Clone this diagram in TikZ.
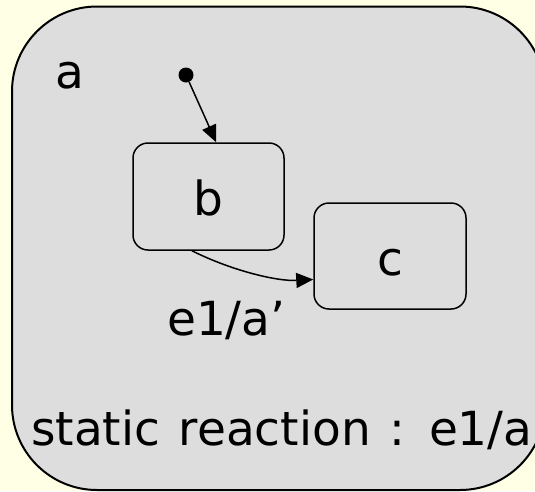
\documentclass[tikz,border=0pt]{standalone}
\usepackage{fontspec}
\setmainfont{DejaVu Sans}[WordSpace=1.25]
\usetikzlibrary{arrows.meta}
\definecolor{paper}{HTML}{FFFFE6}
\definecolor{statefill}{HTML}{DDDDDD}
\begin{document}
\begin{tikzpicture}[x=1pt,y=-1pt,
  every node/.style={inner sep=0pt, font=\fontsize{47}{56}\selectfont},
  superstate/.style={draw, line width=2pt, fill=statefill, rounded corners=85pt},
  substate/.style={draw, line width=1.5pt, fill=statefill, rounded corners=15pt,
    minimum width=151pt, minimum height=107pt, text height=38pt, text depth=0pt},
  initdot/.style={circle, fill=black, minimum size=15pt},
  trans/.style={line width=1.5pt, -{Triangle[length=17pt,width=15pt]}},
  caption/.style={anchor=base west},
]
\useasboundingbox (0,0) rectangle (535,491);
\clip (0,0) rectangle (535,491);
\fill[paper] (0,0) rectangle (535,491);

% enclosing state a
\node[superstate, minimum width=533pt, minimum height=483.5pt] (stateA) at (278.5,248.25) {};
\node[caption] (alabel) at (55,88) {a};

% initial pseudo-state and the two substates
\node[initdot] (init) at (186,75) {};
\node[substate] (b) at (208.5,196.5) {b};
\node[substate, minimum width=152pt, minimum height=106pt] (c) at (390,256) {c};

% transitions
\draw[trans] (init) -- (b.82);
\draw[trans] (b.253) .. controls +(40,20) and +(-36,2) .. (c.197);
\node[caption] (tlabel) at (167,335) {e1/a’};

% static reaction of a
\node[caption] (static) at (31,445) {static reaction : e1/a};
\end{tikzpicture}
\end{document}
